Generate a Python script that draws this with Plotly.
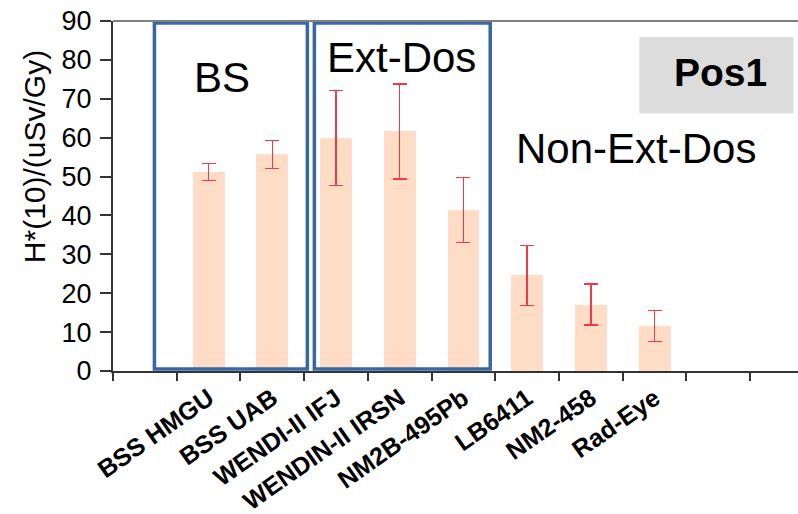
import plotly.graph_objects as go

# Detector names, measured H*(10) response and its uncertainty
categories = ["BSS HMGU", "BSS UAB", "WENDI-II IFJ", "WENDIN-II IRSN",
              "NM2B-495Pb", "LB6411", "NM2-458", "Rad-Eye"]
values = [51.2, 55.7, 59.9, 61.6, 41.4, 24.6, 17.1, 11.6]
errors = [2.2, 3.6, 12.2, 12.2, 8.3, 7.7, 5.3, 4.0]

# Groups of detectors framed with a box: (label, first index, last index)
boxed_groups = [("BS", 0, 1), ("Ext-Dos", 2, 4)]
free_group = ("Non-Ext-Dos", 5, 7)
position_label = "Pos1"

FONT = "Liberation Sans"
BAR_COLOR = "#FEDCC6"
ERR_COLOR = "#EE3B45"
BOX_COLOR = "#3867A6"

# one empty slot before the first detector
xpos = [i + 1 for i in range(len(categories))]

fig = go.Figure()
fig.add_trace(go.Bar(
    x=xpos, y=values, width=0.5,
    marker=dict(color=BAR_COLOR, line=dict(width=0)),
    error_y=dict(type="data", array=errors, visible=True,
                 color=ERR_COLOR, thickness=1.4, width=7),
    showlegend=False,
))

shapes = []
annotations = []

# box padding (left, right) around each framed group, in slot units
box_pad = {"BS": (0.85, 0.55), "Ext-Dos": (0.34, 0.42)}
label_pos = {"BS": (1.21, 75.6), "Ext-Dos": (4.02, 80.6)}
for name, first, last in boxed_groups:
    pl, pr = box_pad[name]
    shapes.append(dict(type="rect", xref="x", yref="y",
                       x0=xpos[first] - pl, x1=xpos[last] + pr,
                       y0=0.5, y1=89.5,
                       line=dict(color=BOX_COLOR, width=3.5)))
    lx, ly = label_pos[name]
    annotations.append(dict(x=lx, y=ly, xref="x", yref="y", text=name,
                            showarrow=False,
                            font=dict(family=FONT, size=42, color="black")))

annotations.append(dict(x=7.71, y=57.3, xref="x", yref="y", text=free_group[0],
                        showarrow=False,
                        font=dict(family=FONT, size=42, color="black")))

# grey badge with the position name
shapes.append(dict(type="rect", xref="x", yref="y", x0=7.76, x1=10.18,
                   y0=66.3, y1=85.9, fillcolor="#DCDCDC",
                   line=dict(width=0), layer="below"))
annotations.append(dict(x=9.03, y=76.8, xref="x", yref="y",
                        text="<b>" + position_label + "</b>", showarrow=False,
                        font=dict(family=FONT, size=39, color="black")))

# top frame line
shapes.append(dict(type="line", xref="paper", yref="paper", x0=0, x1=1,
                   y0=1, y1=1, line=dict(color="#808080", width=2)))

# y-axis title
annotations.append(dict(x=-0.1153, y=0.611, xref="paper", yref="paper",
                        xanchor="center", yanchor="middle",
                        text="H*(10)/(uSv/Gy)", textangle=-90, showarrow=False,
                        font=dict(family=FONT, size=30, color="black")))

fig.update_layout(
    width=798, height=514,
    margin=dict(l=113, r=0, t=21, b=143),
    paper_bgcolor="white", plot_bgcolor="white",
    font=dict(family=FONT, color="black"),
    shapes=shapes, annotations=annotations,
    bargap=0,
)

fig.update_xaxes(
    range=[-0.5, 10.25], automargin=False,
    tickmode="array", tickvals=xpos,
    ticktext=["<b>" + c + "</b>" for c in categories],
    tickangle=-35, tickfont=dict(family=FONT, size=25, color="black"),
    ticks="outside", ticklen=0, tickcolor="rgba(0,0,0,0)",
    ticklabelstandoff=1,
    minor=dict(tick0=-0.5, dtick=1, ticks="outside", ticklen=8,
               tickcolor="#333333", tickwidth=2),
    showline=True, linecolor="#333333", linewidth=2,
    showgrid=False, zeroline=False,
)
fig.update_yaxes(
    range=[0, 90], dtick=10, automargin=False,
    ticks="outside", ticklen=11, tickwidth=2, tickcolor="#333333",
    tickfont=dict(family=FONT, size=27, color="black"),
    ticklabelstandoff=3,
    showline=True, linecolor="#333333", linewidth=2,
    showgrid=False, zeroline=False,
)

fig.write_html("out.html")
